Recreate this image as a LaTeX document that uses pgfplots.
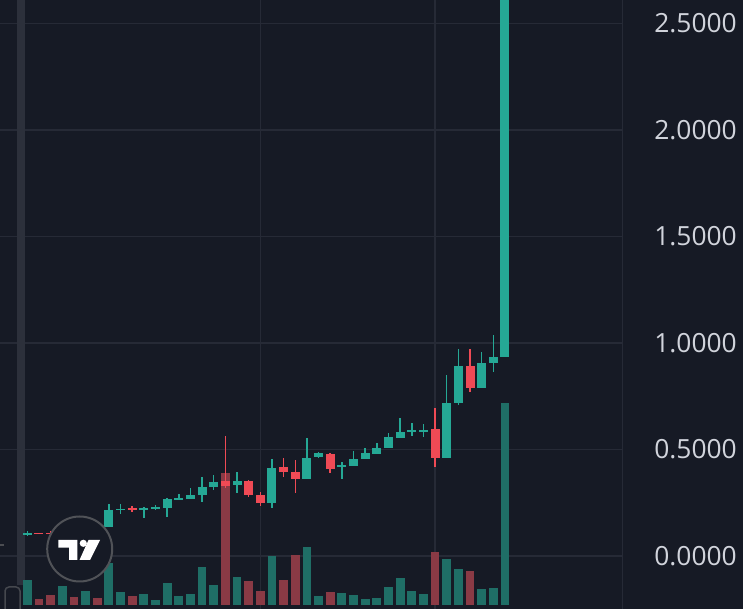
\documentclass[border=0pt]{standalone}
\usepackage{pgfplots}
\pgfplotsset{compat=1.18}
\usepackage{pgfplotstable}
\usepackage{fontspec}
\newfontfamily\tickfont{Open Sans}
\definecolor{bg}{HTML}{161A25}
\definecolor{gridc}{HTML}{262A36}
\definecolor{upc}{HTML}{25A895}
\definecolor{dnc}{HTML}{EF4A55}
\definecolor{volg}{HTML}{1F6E66}
\definecolor{volr}{HTML}{8A3A45}
\definecolor{txt}{HTML}{D1D4DC}
\definecolor{stripe}{HTML}{2C303B}

% candles: i open high low close
\pgfplotstableread{
i o h l c
0 0.103 0.118 0.093 0.108
3 0.104 0.118 0.100 0.115
5 0.110 0.128 0.106 0.125
7 0.138 0.244 0.135 0.216
8 0.216 0.243 0.196 0.222
10 0.218 0.230 0.177 0.224
11 0.222 0.240 0.216 0.229
12 0.224 0.274 0.184 0.266
13 0.266 0.290 0.266 0.271
14 0.268 0.318 0.268 0.286
15 0.286 0.372 0.255 0.325
16 0.325 0.380 0.310 0.349
18 0.333 0.396 0.294 0.350
21 0.250 0.454 0.227 0.415
24 0.362 0.555 0.360 0.461
25 0.463 0.490 0.460 0.482
27 0.419 0.443 0.362 0.426
28 0.424 0.493 0.424 0.454
29 0.454 0.506 0.454 0.482
30 0.479 0.529 0.479 0.508
31 0.508 0.579 0.508 0.560
32 0.555 0.649 0.552 0.581
33 0.585 0.623 0.563 0.591
34 0.585 0.620 0.560 0.591
36 0.461 0.850 0.461 0.720
37 0.717 0.970 0.709 0.893
39 0.790 0.959 0.790 0.905
40 0.905 1.038 0.862 0.933
41 0.936 2.750 0.936 2.750
}\upc
\pgfplotstableread{
i o h l c
1 0.108 0.109 0.103 0.104
2 0.108 0.116 0.100 0.104
4 0.115 0.120 0.108 0.110
6 0.125 0.130 0.120 0.121
9 0.224 0.235 0.205 0.218
17 0.352 0.563 0.319 0.330
19 0.352 0.357 0.277 0.286
20 0.286 0.299 0.235 0.247
22 0.416 0.461 0.372 0.393
23 0.396 0.451 0.294 0.362
26 0.479 0.482 0.388 0.407
35 0.595 0.693 0.419 0.459
38 0.893 0.970 0.771 0.787
}\dnc

% volume (pixel heights of the volume pane)
\pgfplotstableread{
i v
0 25
3 19.3
5 14
7 42.3
8 12.7
10 10.7
11 5
12 21.7
13 9
14 11
15 38.3
16 19.7
18 28
21 49
24 58.3
25 9.3
27 11.7
28 10.3
29 6.3
30 7.3
31 17.7
32 26.7
33 14
34 10.7
36 46
37 35.7
39 15.7
40 17.3
41 201.7
}\volgt
\pgfplotstableread{
i v
1 5.7
2 10
4 8
6 7
9 9.3
17 132.3
19 24
20 14
22 25
23 50.3
26 12.7
35 53.3
38 34.3
}\volrt

\begin{document}
\begin{tikzpicture}[x=1bp,y=1bp]
\fill[bg] (0,0) rectangle (743,609);
\useasboundingbox (0,0) rectangle (743,609);
\begin{axis}[
  at={(0,0)}, anchor=south west, scale only axis,
  width=623bp, height=609bp,
  xmin=-2.343, xmax=51.13, ymin=-0.2488, ymax=2.6103,
  axis line style={draw=none}, major tick length=0pt,
  xtick={20,35}, xticklabels={},
  ytick={0,0.5,1,1.5,2,2.5},
  yticklabels={0.0000,0.5000,1.0000,1.5000,2.0000,2.5000},
  yticklabel pos=right,
  yticklabel style={anchor=east, inner sep=0pt, xshift=114bp, font=\tickfont\fontsize{26.5}{30}\selectfont, text=txt},
  /pgf/number format/assume math mode=true,
  grid=major, major grid style={draw=gridc, line width=1.2bp},
]
% left stripe
\fill[stripe] (axis cs:-0.884,-0.136) rectangle (axis cs:-0.24,2.62);
% volume
\addplot[draw=none, mark=none, forget plot, error bars/.cd, y dir=both, y explicit, error mark=none,
  error bar style={draw=volg, line width=8.8bp}]
  table[x=i, y expr={-0.23+\thisrow{v}/426}, y error expr={\thisrow{v}/426}] {\volgt};
\addplot[draw=none, mark=none, forget plot, error bars/.cd, y dir=both, y explicit, error mark=none,
  error bar style={draw=volr, line width=8.8bp}]
  table[x=i, y expr={-0.23+\thisrow{v}/426}, y error expr={\thisrow{v}/426}] {\volrt};
% wicks
\addplot[draw=none, mark=none, forget plot, error bars/.cd, y dir=both, y explicit, error mark=none,
  error bar style={draw=upc, line width=1.5bp}]
  table[x=i, y expr={(\thisrow{h}+\thisrow{l})/2}, y error expr={(\thisrow{h}-\thisrow{l})/2}] {\upc};
\addplot[draw=none, mark=none, forget plot, error bars/.cd, y dir=both, y explicit, error mark=none,
  error bar style={draw=dnc, line width=1.5bp}]
  table[x=i, y expr={(\thisrow{h}+\thisrow{l})/2}, y error expr={(\thisrow{h}-\thisrow{l})/2}] {\dnc};
% bodies
\addplot[draw=none, mark=none, forget plot, error bars/.cd, y dir=both, y explicit, error mark=none,
  error bar style={draw=upc, line width=9bp}]
  table[x=i, y expr={(\thisrow{o}+\thisrow{c})/2}, y error expr={max(abs(\thisrow{c}-\thisrow{o})/2,0.0035)}] {\upc};
\addplot[draw=none, mark=none, forget plot, error bars/.cd, y dir=both, y explicit, error mark=none,
  error bar style={draw=dnc, line width=9bp}]
  table[x=i, y expr={(\thisrow{o}+\thisrow{c})/2}, y error expr={max(abs(\thisrow{c}-\thisrow{o})/2,0.0035)}] {\dnc};
\end{axis}
% TradingView watermark
\fill[bg, draw=gray!55!bg, line width=2bp] (79.7,60) circle[radius=32.5];
\begin{scope}[shift={(79.7,60)}]
  \fill[white] (-21.4,9) -- (-2.4,9) -- (-2.4,-11) -- (-10.7,-11) -- (-10.7,1.3) -- (-21.4,1.3) -- cycle;
  \fill[white] (3.6,5.7) circle[radius=3.6];
  \fill[white] (8.8,9) -- (20.3,9) -- (10.3,-11) -- (-0.2,-11) -- cycle;
\end{scope}
\draw[gridc, line width=1bp] (622.5,0) -- (622.5,609);
\draw[gray!45!bg, line width=1.5bp, rounded corners=4bp] (5,-5) rectangle (20,22);
\draw[gray!50!bg, line width=1.5bp] (0,64) -- (4,64);
\end{tikzpicture}
\end{document}
